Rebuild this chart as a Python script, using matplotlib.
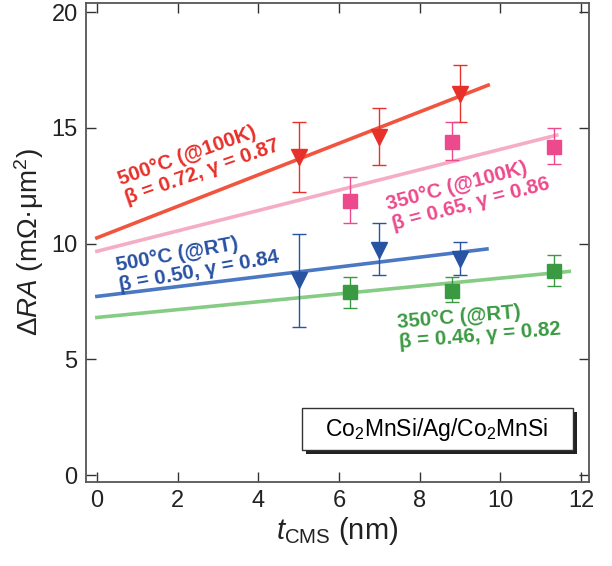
import numpy as np
import matplotlib.pyplot as plt
from matplotlib.patches import Rectangle

plt.rcParams['font.family'] = ['Liberation Sans', 'DejaVu Sans']
plt.rcParams['mathtext.fontset'] = 'custom'
plt.rcParams['mathtext.rm'] = 'Liberation Sans'
plt.rcParams['mathtext.it'] = 'Liberation Sans:italic'

# 500C @100K (triangles)
x_500_100k = [5.0, 7.0, 9.0]
y_500_100k = [13.75, 14.6, 16.45]
lo_500_100k = [1.5, 1.2, 1.2]
hi_500_100k = [1.5, 1.25, 1.25]
fit_x_500_100k = [0.0, 9.7]
fit_y_500_100k = [10.25, 16.85]

# 350C @100K (squares)
x_350_100k = [6.28, 8.8, 11.34]
y_350_100k = [11.86, 14.39, 14.19]
lo_350_100k = [0.96, 0.79, 0.74]
hi_350_100k = [1.01, 0.86, 0.81]
fit_x_350_100k = [0.0, 11.4]
fit_y_350_100k = [9.67, 14.69]

# 500C @RT (triangles)
x_500_rt = [5.0, 7.0, 9.0]
y_500_rt = [8.44, 9.71, 9.34]
lo_500_rt = [2.02, 1.07, 0.7]
hi_500_rt = [1.99, 1.19, 0.73]
fit_x_500_rt = [0.0, 9.67]
fit_y_500_rt = [7.72, 9.77]

# 350C @RT (squares)
x_350_rt = [6.28, 8.8, 11.34]
y_350_rt = [7.89, 7.97, 8.83]
lo_350_rt = [0.65, 0.51, 0.65]
hi_350_rt = [0.69, 0.61, 0.69]
fit_x_350_rt = [0.0, 11.71]
fit_y_350_rt = [6.81, 8.8]

fig = plt.figure(figsize=(6.12, 5.66), dpi=100)
ax = fig.add_axes([0.1405, 0.1484, 0.8219, 0.8463])

# fit lines
ax.plot(fit_x_500_100k, fit_y_500_100k, color='#f0553f', lw=2.6, zorder=2)
ax.plot(fit_x_350_100k, fit_y_350_100k, color='#f5adc6', lw=2.6, zorder=2)
ax.plot(fit_x_500_rt, fit_y_500_rt, color='#4a78c2', lw=2.6, zorder=2)
ax.plot(fit_x_350_rt, fit_y_350_rt, color='#86cc84', lw=2.6, zorder=2)

# data points
ax.errorbar(x_500_100k, y_500_100k, yerr=[lo_500_100k, hi_500_100k], fmt='v',
            color='#e8302a', ms=11, capsize=5, elinewidth=1, capthick=1, zorder=3)
ax.errorbar(x_350_100k, y_350_100k, yerr=[lo_350_100k, hi_350_100k], fmt='s',
            color='#ec4a8c', ms=10, capsize=5, elinewidth=1, capthick=1, zorder=3)
ax.errorbar(x_500_rt, y_500_rt, yerr=[lo_500_rt, hi_500_rt], fmt='v',
            color='#2852a2', ms=11, capsize=5, elinewidth=1, capthick=1, zorder=3)
ax.errorbar(x_350_rt, y_350_rt, yerr=[lo_350_rt, hi_350_rt], fmt='s',
            color='#3a9a42', ms=10, capsize=5, elinewidth=1, capthick=1, zorder=3)

# annotations
kw = dict(fontsize=14.8, fontweight='bold', ha='center', va='center',
          multialignment='left', rotation_mode='anchor', linespacing=1.08)
ax.text(2.52, 13.5, '500°C (@100K)\nβ = 0.72, γ = 0.87', color='#e8302a', rotation=19.5, **kw)
ax.text(9.2, 12.14, '350°C (@100K)\nβ = 0.65, γ = 0.86', color='#ec4a8c', rotation=14.8, **kw)
ax.text(2.5, 9.22, '500°C (@RT)\nβ = 0.50, γ = 0.84', color='#2852a2', rotation=10.2, **kw)
ax.text(9.48, 6.45, '350°C (@RT)\nβ = 0.46, γ = 0.82', color='#3a9a42', rotation=4.8, **kw)

# sample box with shadow
ax.add_patch(Rectangle((0.437, 0.058), 0.539, 0.088, transform=ax.transAxes,
                       facecolor='#222222', edgecolor='none', zorder=4))
ax.add_patch(Rectangle((0.429, 0.0668), 0.539, 0.0877, transform=ax.transAxes,
                       facecolor='white', edgecolor='#333333', lw=1, zorder=5))
ax.text(0.698, 0.1106, 'Co$_2$MnSi/Ag/Co$_2$MnSi', transform=ax.transAxes,
        fontsize=16.5, ha='center', va='center', zorder=6)

ax.set_xlim(-0.27, 12.2)
ax.set_ylim(-0.3, 20.4)
ax.set_xticks(np.arange(0, 13, 2))
ax.set_yticks(np.arange(0, 21, 5))
ax.tick_params(direction='in', length=7, width=1, labelsize=17, color='#333333',
               top=True, right=True, labelcolor='#222222', pad=6)
for s in ax.spines.values():
    s.set_color('#555555')
    s.set_linewidth(1.3)

ax.set_xlabel('$\\mathit{t}_{\\mathrm{CMS}}$ (nm)', fontsize=21, color='#222222', labelpad=2)
ax.set_ylabel('Δ$\\mathit{RA}$ (mΩ·μm$^2$)', fontsize=20, color='#222222', labelpad=4)

fig.savefig('out.png', dpi=100)
